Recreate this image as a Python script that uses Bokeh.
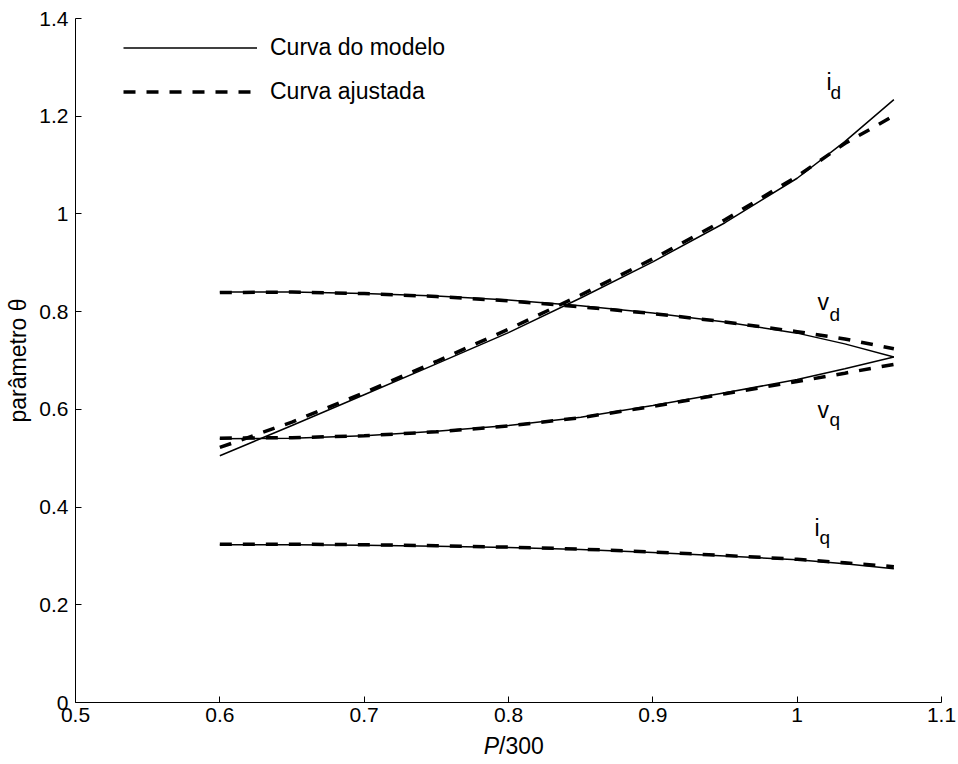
from bokeh.plotting import figure
from bokeh.models import Label, Legend, LegendItem, FixedTicker
from bokeh.embed import file_html
from bokeh.resources import INLINE

# ---- data ----
x = [0.600, 0.650, 0.700, 0.750, 0.800, 0.850, 0.900, 0.950, 1.000, 1.033, 1.067]
id_model = [0.505, 0.567, 0.630, 0.693, 0.757, 0.828, 0.902, 0.982, 1.073, 1.148, 1.234]
id_fit = [0.522, 0.574, 0.634, 0.698, 0.764, 0.834, 0.908, 0.988, 1.077, 1.144, 1.201]
vd_model = [0.840, 0.840, 0.837, 0.832, 0.824, 0.812, 0.797, 0.779, 0.756, 0.734, 0.707]
vd_fit = [0.839, 0.840, 0.837, 0.831, 0.822, 0.810, 0.796, 0.779, 0.759, 0.744, 0.724]
vq_model = [0.540, 0.541, 0.546, 0.555, 0.567, 0.584, 0.608, 0.634, 0.661, 0.683, 0.707]
vq_fit = [0.541, 0.542, 0.546, 0.554, 0.566, 0.583, 0.606, 0.632, 0.657, 0.674, 0.692]
iq_model = [0.323, 0.323, 0.322, 0.320, 0.317, 0.313, 0.307, 0.300, 0.292, 0.284, 0.274]
iq_fit = [0.324, 0.324, 0.323, 0.321, 0.318, 0.314, 0.308, 0.301, 0.293, 0.286, 0.278]

x_ticks = [0.5, 0.6, 0.7, 0.8, 0.9, 1.0, 1.1]
x_tick_labels = ["0.5", "0.6", "0.7", "0.8", "0.9", "1", "1.1"]
y_ticks = [0.0, 0.2, 0.4, 0.6, 0.8, 1.0, 1.2, 1.4]
y_tick_labels = ["0", "0.2", "0.4", "0.6", "0.8", "1", "1.2", "1.4"]

legend_labels = ["Curva do modelo", "Curva ajustada"]
y_title = "parâmetro θ"

FONT = "Liberation Sans"

W, H = 956, 760
# pixel geometry of the axes box in the reference
AX_L, AX_R, AX_T, AX_B = 75, 941, 18, 702
XMIN, XMAX, YMIN, YMAX = 0.5, 1.1, 0.0, 1.4
sx_per = (AX_R - AX_L) / (XMAX - XMIN)
sy_per = (AX_B - AX_T) / (YMAX - YMIN)

# the frame covers the whole canvas so that the axes (placed at fixed data locations)
# and the x title (italic P + /300) are drawn without being clipped
p = figure(width=W, height=H,
           x_range=(XMIN - AX_L / sx_per, XMIN + (W - AX_L) / sx_per),
           y_range=(YMIN - (H - AX_B) / sy_per, YMAX + AX_T / sy_per),
           output_backend="svg", toolbar_location=None,
           min_border_left=0, min_border_right=0, min_border_top=0, min_border_bottom=0)
p.outline_line_color = None
p.xgrid.visible = False
p.ygrid.visible = False
p.background_fill_color = "white"
p.border_fill_color = "white"

for ax in (p.xaxis[0], p.yaxis[0]):
    ax.axis_line_color = "black"
    ax.axis_line_width = 1
    ax.major_tick_line_color = "black"
    ax.major_tick_in = 6
    ax.major_tick_out = 0
    ax.minor_tick_line_color = None
    ax.major_label_text_font = FONT
    ax.major_label_text_font_size = "21px"
    ax.major_label_text_color = "black"

p.xaxis.fixed_location = YMIN
p.yaxis.fixed_location = XMIN
p.xaxis.bounds = (XMIN, XMAX)
p.yaxis.bounds = (YMIN, YMAX)
p.xaxis.ticker = FixedTicker(ticks=x_ticks)
p.yaxis.ticker = FixedTicker(ticks=y_ticks)
p.xaxis.major_label_overrides = {t: l for t, l in zip(x_ticks, x_tick_labels)}
p.yaxis.major_label_overrides = {t: l for t, l in zip(y_ticks, y_tick_labels)}
p.xaxis.major_label_standoff = 5
p.yaxis.major_label_standoff = 7

p.yaxis.axis_label = y_title
p.yaxis.axis_label_text_font = FONT
p.yaxis.axis_label_text_font_size = "23px"
p.yaxis.axis_label_text_font_style = "normal"
p.yaxis.axis_label_text_color = "black"
p.yaxis.axis_label_standoff = 5

# x-axis title: italic P followed by /300
p.add_layout(Label(x=0.7935, y=-0.090, text="P", text_align="right", text_baseline="middle",
                   text_font=FONT, text_font_size="23px", text_font_style="italic",
                   text_color="black"))
p.add_layout(Label(x=0.7935, y=-0.090, text="/300", text_align="left", text_baseline="middle",
                   text_font=FONT, text_font_size="23px", text_color="black"))

# curves
series = [(id_model, id_fit), (vd_model, vd_fit), (vq_model, vq_fit), (iq_model, iq_fit)]
solid_r = None
dash_r = None
for m, f in series:
    dash_r = p.line(x, f, line_color="black", line_width=3.5, line_dash="12 11")
    solid_r = p.line(x, m, line_color="black", line_width=1.5)

legend = Legend(items=[LegendItem(label=legend_labels[0], renderers=[solid_r]),
                       LegendItem(label=legend_labels[1], renderers=[dash_r])],
                location=(123, H - 105), orientation="vertical",
                glyph_width=134, glyph_height=27, label_height=27, label_standoff=13,
                spacing=17, padding=0, margin=0,
                border_line_color=None, background_fill_alpha=0,
                label_text_font=FONT, label_text_font_size="23px", label_text_color="black")
p.add_layout(legend)

# curve annotations (main letter + subscript)
def px2x(px):
    return XMIN + (px - AX_L) / sx_per

def py2y(py):
    return YMIN + (AX_B - py) / sy_per

annots = [("i", "d", 826, 81, 830, 92),
          ("v", "d", 817, 301, 829, 314),
          ("v", "q", 817, 409, 829, 419),
          ("i", "q", 814, 527, 819, 537)]
for main, sub, mx, my, sx, sy in annots:
    p.add_layout(Label(x=px2x(mx), y=py2y(my), text=main, text_align="left",
                       text_baseline="alphabetic", text_font=FONT, text_font_size="23px",
                       text_color="black"))
    p.add_layout(Label(x=px2x(sx), y=py2y(sy), text=sub, text_align="left",
                       text_baseline="alphabetic", text_font=FONT, text_font_size="19px",
                       text_color="black"))

open("out.html", "w").write(file_html(p, INLINE))
